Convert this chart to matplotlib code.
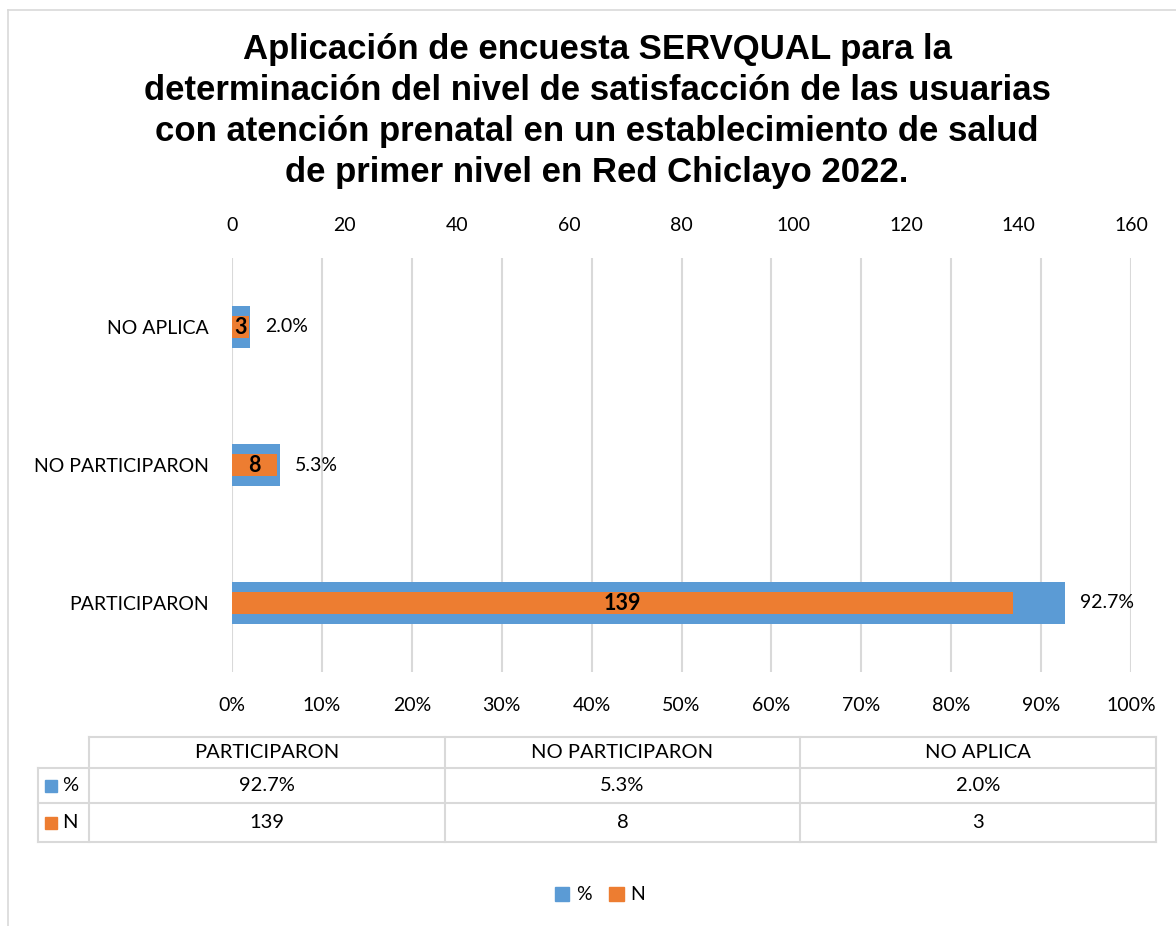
import matplotlib
matplotlib.use("Agg")
import matplotlib.pyplot as plt
from matplotlib.lines import Line2D
from matplotlib.patches import Patch, Rectangle

# ---- data ----
categories = ["PARTICIPARON", "NO PARTICIPARON", "NO APLICA"]
pct_values = [92.7, 5.3, 2.0]
n_values = [139, 8, 3]
pct_ticks = [0, 10, 20, 30, 40, 50, 60, 70, 80, 90, 100]
n_ticks = [0, 20, 40, 60, 80, 100, 120, 140, 160]
series_names = ["%", "N"]
title = ("Aplicación de encuesta SERVQUAL para la\n"
         "determinación del nivel de satisfacción de las usuarias\n"
         "con atención prenatal en un establecimiento de salud\n"
         "de primer nivel en Red Chiclayo 2022.")

BLUE = "#5B9BD5"
ORANGE = "#ED7D31"
GRID = "#D9D9D9"
FONT = "Lato"
FS = 14
W, H = 1176, 926

fig = plt.figure(figsize=(W / 100, H / 100), dpi=100)


def fx(x):
    return x / W


def fy(y):
    return 1 - y / H


def hline(x0, x1, y, color=GRID, lw=1.5):
    fig.add_artist(Line2D([fx(x0), fx(x1)], [fy(y), fy(y)], color=color, lw=lw,
                          transform=fig.transFigure))


def vline(x, y0, y1, color=GRID, lw=1.5):
    fig.add_artist(Line2D([fx(x), fx(x)], [fy(y0), fy(y1)], color=color, lw=lw,
                          transform=fig.transFigure))


# chart-area border (top and left visible)
hline(8, W, 10, lw=1.2)
vline(8, 10, H, lw=1.2)

# title
fig.text(fx(597), fy(111), title, ha="center", va="center", fontsize=25,
         fontweight="bold", family="Liberation Sans", linespacing=1.32,
         color="#000000")

# axes
left, right, top, bottom = 232, 1131, 258, 672
ax = fig.add_axes([fx(left), fy(bottom), fx(right - left), (bottom - top) / H])
ypos = list(range(len(categories)))

ax.barh(ypos, pct_values, height=0.31, color=BLUE, zorder=2)
ax.set_xlim(0, 100)
ax.set_ylim(-0.5, 2.5)
ax.set_xticks(pct_ticks)
ax.set_xticklabels([f"{t}%" for t in pct_ticks])
ax.set_yticks(ypos)
ax.set_yticklabels(categories)
ax.grid(axis="x", color=GRID, lw=1.5)
ax.set_axisbelow(True)
for s in ax.spines.values():
    s.set_visible(False)
ax.tick_params(axis="x", length=0, pad=18, labelsize=FS, labelcolor="#000000")
ax.tick_params(axis="y", length=0, pad=17, labelsize=FS, labelcolor="#000000")
for lab in ax.get_xticklabels() + ax.get_yticklabels():
    lab.set_family(FONT)

for yv, v in zip(ypos, pct_values):
    ax.annotate(f"{v:.1f}%", (v, yv), xytext=(15, 0), textcoords="offset pixels",
                ha="left", va="center", fontsize=FS, family=FONT, color="#000000")

ax2 = ax.twiny()
ax2.barh(ypos, n_values, height=0.165, color=ORANGE, zorder=3)
ax2.set_xlim(0, 160)
ax2.set_xticks(n_ticks)
ax2.set_xticklabels([str(t) for t in n_ticks])
ax2.patch.set_visible(False)
for s in ax2.spines.values():
    s.set_visible(False)
ax2.tick_params(axis="x", length=0, pad=17, labelsize=FS, labelcolor="#000000")
for lab in ax2.get_xticklabels():
    lab.set_family(FONT)
for yv, v in zip(ypos, n_values):
    ax2.text(v / 2, yv, str(v), ha="center", va="center", fontsize=15.5,
             fontweight="bold", family=FONT, color="#000000", zorder=4)

# data table
col_edges = [89, 445, 800, 1156]
row_edges = [737, 768, 803, 842]
label_left = 38
hline(col_edges[0], col_edges[-1], row_edges[0])
for y in row_edges[1:]:
    hline(label_left, col_edges[-1], y)
for x in col_edges:
    vline(x, row_edges[0], row_edges[-1])
vline(label_left, row_edges[1], row_edges[-1])

TFS = 14.5
table_rows = [[f"{v:.1f}%" for v in pct_values], [str(v) for v in n_values]]
row_colors = [BLUE, ORANGE]
for i, cat in enumerate(categories):
    cx = (col_edges[i] + col_edges[i + 1]) / 2
    fig.text(fx(cx), fy((row_edges[0] + row_edges[1]) / 2), cat, ha="center",
             va="center", fontsize=TFS, family=FONT)
    for r in range(2):
        cy = (row_edges[r + 1] + row_edges[r + 2]) / 2
        fig.text(fx(cx), fy(cy), table_rows[r][i], ha="center", va="center",
                 fontsize=TFS, family=FONT)
for r in range(2):
    cy = (row_edges[r + 1] + row_edges[r + 2]) / 2
    fig.add_artist(Rectangle((fx(45), fy(cy + 6)), fx(12), 12 / H,
                             color=row_colors[r], transform=fig.transFigure))
    fig.text(fx(62), fy(cy), series_names[r], ha="left", va="center",
             fontsize=TFS, family=FONT)

# legend
handles = [Patch(color=BLUE), Patch(color=ORANGE)]
fig.legend(handles, series_names, loc="center", bbox_to_anchor=(fx(600), fy(895)),
           ncol=2, frameon=False, handlelength=0.75, handleheight=0.75,
           handletextpad=0.35, columnspacing=0.9,
           prop={"family": FONT, "size": FS})

fig.savefig("out.png", dpi=100)
